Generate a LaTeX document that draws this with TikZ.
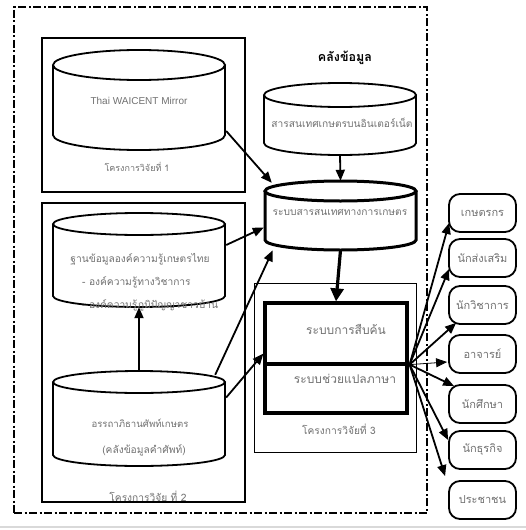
\documentclass[tikz,border=0pt]{standalone}
\usepackage{fontspec}
\newfontfamily\thai[Script=Thai]{Loma}
\newfontfamily\lat{Liberation Sans}
\usetikzlibrary{arrows.meta,calc,fit}
\definecolor{txtgray}{HTML}{707070}
\newcommand\mycyl[7]{%
  \pgfmathsetmacro\cx{(#2+#3)/2}%
  \pgfmathsetmacro\rx{(#3-#2)/2}%
  \draw[#7] (\cx,#4) ellipse[x radius=\rx, y radius=#6];
  \draw[#7] (#2,#4) -- (#2,#5) arc[start angle=180,end angle=0,x radius=\rx,y radius=#6] -- (#3,#4);
  \node[fit={(#2,{#4-#6})(#3,{#5+#6})}, inner sep=0pt] (#1) {};
}
\tikzset{
  cylline/.style={line width=1.8pt},
  thickcyl/.style={line width=3pt},
  frame/.style={draw, line width=1.8pt, inner sep=0pt},
  gtext/.style={text=txtgray, font=\thai\fontsize{10.2}{12}\selectfont, inner sep=0pt},
  user/.style={draw, rounded corners=11pt, line width=1.8pt, minimum width=67pt, minimum height=38pt, inner sep=0pt, text=txtgray, font=\thai\fontsize{11}{13}\selectfont},
  arr/.style={line width=1.8pt, -{Triangle[length=11pt,width=9pt]}},
  thinarr/.style={line width=0.8pt, -{Triangle[length=11pt,width=9pt]}},
  bigarr/.style={line width=3.2pt, -{Triangle[length=13pt,width=13pt]}},
}
\begin{document}
\begin{tikzpicture}[x=1pt,y=-1pt]
\useasboundingbox (0,0) rectangle (526,530);
% outer dash-dot frame
\node[draw, line width=1.8pt, dash pattern=on 8pt off 2.5pt on 2pt off 2.5pt, minimum width=413pt, minimum height=506pt, inner sep=0pt] (store) at (220.5,260) {};
\node[font=\thai\bfseries\fontsize{12.5}{14}\selectfont, inner sep=0pt] (storelbl) at (345,58) {คลังข้อมูล};
% project 1
\node[frame, minimum width=203pt, minimum height=154pt] (p1) at (143.5,115) {};
\mycyl{wai}{53}{225}{65}{135}{15}{cylline}
\node[text=txtgray, font=\lat\fontsize{10}{12}\selectfont, inner sep=0pt] (wailbl) at (139,101) {Thai WAICENT Mirror};
\node[gtext, font=\thai\fontsize{9}{11}\selectfont] (p1lbl) at (137,167) {โครงการวิจัยที่ 1};
% internet info
\mycyl{net}{264}{416}{95}{143}{12}{cylline}
\node[gtext] (netlbl) at (342,123) {สารสนเทศเกษตรบนอินเตอร์เน็ต};
% agricultural info system
\mycyl{sys}{265}{416}{191}{240}{10}{thickcyl}
\node[gtext] (syslbl) at (340,212) {ระบบสารสนเทศทางการเกษตร};
% project 2
\node[frame, minimum width=203pt, minimum height=299pt] (p2) at (143.5,352.5) {};
\mycyl{know}{53}{225}{224}{296}{11}{cylline}
\node[gtext] (knowlbl) at (140,259) {ฐานข้อมูลองค์ความรู้เกษตรไทย};
\node[gtext, anchor=west] (know2) at (82,282) {- องค์ความรู้ทางวิชาการ};
\node[gtext, anchor=west] (know3) at (82,305) {- องค์ความรู้ภูมิปัญญาชาวบ้าน};
\mycyl{thes}{53}{225}{382}{455}{11}{cylline}
\node[gtext, font=\thai\fontsize{9.6}{11}\selectfont] (theslbl) at (140,423) {อรรถาภิธานศัพท์เกษตร};
\node[gtext] (thes2) at (144,450) {(คลังข้อมูลคำศัพท์)};
\node[gtext] (p2lbl) at (148,496) {โครงการวิจัย ที่ 2};
% project 3
\node[draw, line width=0.9pt, minimum width=162pt, minimum height=169pt, inner sep=0pt] (p3) at (335,367.5) {};
\node[draw, line width=3.2pt, minimum width=142pt, minimum height=61pt, inner sep=0pt] (srch) at (336,333.5) {};
\node[draw, line width=3.2pt, minimum width=142pt, minimum height=49pt, inner sep=0pt] (trans) at (336,388.5) {};
\node[gtext, font=\thai\fontsize{12}{14}\selectfont] (srchlbl) at (346,329) {ระบบการสืบค้น};
\node[gtext, font=\thai\fontsize{12}{14}\selectfont] (translbl) at (345,379) {ระบบช่วยแปลภาษา};
\node[gtext] (p3lbl) at (339,429) {โครงการวิจัยที่ 3};
% users
\node[user] (b1) at (482.5,213) {เกษตรกร};
\node[user] (b2) at (482.5,258) {นักส่งเสริม};
\node[user] (b3) at (482.5,305) {นักวิชาการ};
\node[user] (b4) at (482.5,354) {อาจารย์};
\node[user] (b5) at (482.5,404) {นักศึกษา};
\node[user] (b6) at (482.5,450) {นักธุรกิจ};
\node[user] (b7) at (482.5,500) {ประชาชน};
% connectors
\draw[arr] (net.south) -- (sys.north);
\draw[arr] ($(wai.east)+(1,31)$) -- ($(sys.north west)+(7,2)$);
\draw[arr] ($(know.east)+(1,-15)$) -- ($(sys.west)+(-1,12)$);
\draw[arr] ($(thes.north east)+(-10,4)$) -- ($(sys.south west)+(8,0)$);
\draw[arr] (thes.north) -- (know.south);
\draw[arr] ($(thes.east)+(1,-21)$) -- ($(srch.south west)+(0,-12)$);
\draw[bigarr] (sys.south) -- (srch.north);
\coordinate (hub) at ($(srch.south east)+(1,-1)$);
\draw[arr] (hub) -- ($(b1.west)+(1,10)$);
\draw[arr] (hub) -- ($(b2.west)+(1,11)$);
\draw[arr] (hub) -- ($(b3.south west)+(8,-2)$);
\draw[thinarr] (hub) -- ($(b4.west)+(-1,8)$);
\draw[arr] (hub) -- ($(b5.north west)+(6,2)$);
\draw[arr] (hub) -- ($(b6.west)+(0,-10)$);
\draw[arr] (hub) -- ($(b7.north west)+(-3,-4)$);
% bottom page edge line
\draw[black!15, line width=1.5pt] (0,527) -- (526,527);
\end{tikzpicture}
\end{document}
